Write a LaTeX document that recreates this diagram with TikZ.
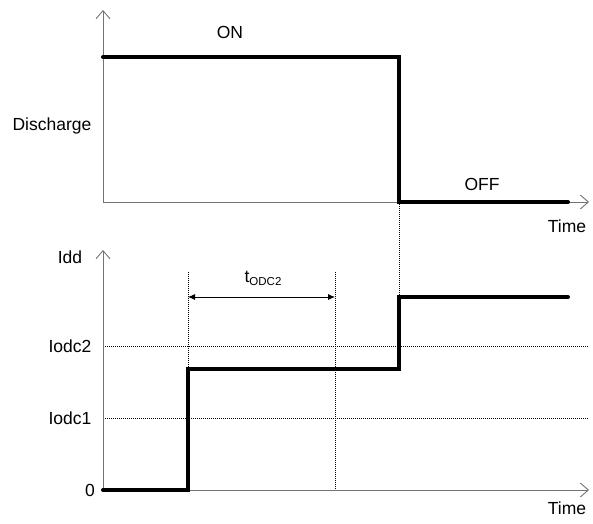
\documentclass[tikz,border=0pt]{standalone}
\usepackage{fontspec}
\setmainfont{Liberation Sans}
\usetikzlibrary{arrows.meta}
\definecolor{axisgray}{gray}{0.45}
\tikzset{
  axis/.style={draw=axisgray, line width=0.9pt, -{Straight Barb[length=8pt,width=14pt,line width=0.9pt]}},
  signal/.style={draw=black, line width=4pt, line cap=round, line join=miter},
  guide/.style={draw=black, line width=0.8pt, dash pattern=on 1pt off 1pt},
  dim/.style={draw=black, line width=0.9pt, {Latex[length=7pt,width=6pt]}-{Latex[length=7pt,width=6pt]}},
  lbl/.style={font=\fontsize{17.5}{20}\selectfont, inner sep=0pt}
}
\begin{document}
\begin{tikzpicture}[x=1pt,y=-1pt]
\useasboundingbox (0,0) rectangle (593,523);
% top plot coordinates
\coordinate (tO) at (103,202);
\coordinate (tY) at (103,10);
\coordinate (tX) at (589,202);
\coordinate (s1) at (103,57);
\coordinate (s2) at (399,57);
\coordinate (s3) at (399,202);
\coordinate (s4) at (568,202);
% bottom plot coordinates
\coordinate (bO) at (103,490);
\coordinate (bY) at (103,250);
\coordinate (bX) at (589,490);
\coordinate (i1a) at (103,418);
\coordinate (i1b) at (589,418);
\coordinate (i2a) at (103,346);
\coordinate (i2b) at (589,346);
\coordinate (p1) at (188,490);
\coordinate (p2) at (188,369);
\coordinate (p3) at (399,369);
\coordinate (p4) at (399,297);
\coordinate (p5) at (568,297);
\coordinate (g1top) at (188,272);
\coordinate (g2top) at (335,272);
\coordinate (g2bot) at (335,490);
\coordinate (d1) at (188,297);
\coordinate (d2) at (335,297);
% guides
\draw[guide] (i1a) -- (i1b);
\draw[guide] (i2a) -- (i2b);
\draw[guide] (s3) -- (p3);
\draw[guide] (g1top) -- (p2);
\draw[guide] (g2top) -- (g2bot);
% axes
\draw[axis] (tO) -- (tY);
\draw[axis] (tO) -- (tX);
\draw[axis] (bO) -- (bY);
\draw[axis] (bO) -- (bX);
% signals
\draw[signal] (s1) -- (s2) -- (s3) -- (s4);
\draw[signal] (bO) -- (p1) -- (p2) -- (p3) -- (p4) -- (p5);
% dimension
\draw[dim] (d1) -- (d2);
% labels
\node[lbl] (on) at (230,32) {ON};
\node[lbl] (off) at (482,184) {OFF};
\node[lbl] (dis) at (52,126) {Discharge};
\node[lbl] (time1) at (567,226) {Time};
\node[lbl] (time2) at (567,508) {Time};
\node[lbl] (idd) at (70,257) {Idd};
\node[lbl] (iodc2) at (70,346) {Iodc2};
\node[lbl] (iodc1) at (70,418) {Iodc1};
\node[lbl] (zero) at (90,490) {0};
\node[lbl] (todc) at (263,278) {t\raisebox{-3pt}{\fontsize{11.5}{12}\selectfont ODC2}};
\end{tikzpicture}
\end{document}
